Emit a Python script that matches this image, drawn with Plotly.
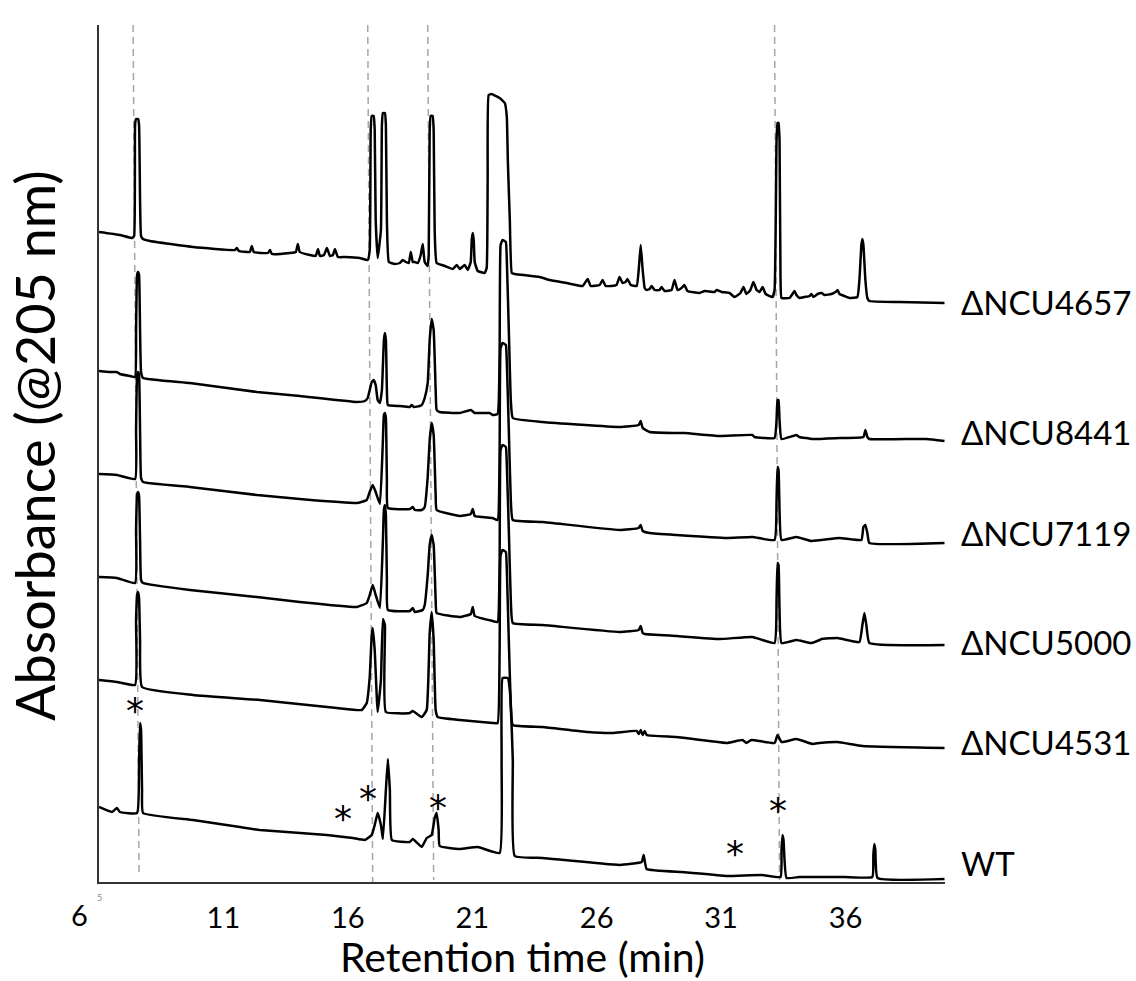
import plotly.graph_objects as go

# ---------------- data (retention time in min, absorbance in arbitrary units, stacked) -------------
t_4657 = [6.00,6.84,7.33,7.41,7.45,7.49,7.57,7.61,7.65,7.69,7.77,8.05,9.78,11.46,11.54,11.62,12.06,12.14,12.22,12.79,
          12.87,12.95,13.67,13.91,13.99,14.07,14.47,14.71,14.80,14.88,15.04,15.16,15.28,15.40,15.48,15.60,15.88,16.48,16.80,16.88,
          16.92,16.96,17.04,17.08,17.12,17.20,17.33,17.37,17.41,17.49,17.53,17.57,17.65,17.89,18.09,18.21,18.33,18.45,18.53,18.61,
          18.69,18.81,18.93,19.01,19.09,19.21,19.25,19.29,19.33,19.41,19.45,19.49,19.57,19.90,20.22,20.38,20.50,20.70,20.82,20.94,
          20.98,21.02,21.06,21.10,21.22,21.50,21.58,21.62,21.66,21.78,21.94,22.10,22.31,22.39,22.43,22.51,22.59,22.71,23.71,24.11,
          24.80,25.44,25.64,25.76,26.12,26.24,26.36,26.80,26.92,27.04,27.16,27.24,27.37,27.61,27.69,27.77,27.85,27.93,28.01,28.13,
          28.21,28.33,28.53,28.61,28.73,29.01,29.13,29.25,29.41,29.53,29.65,30.14,30.34,30.74,30.82,31.02,31.34,31.54,31.78,31.90,
          32.02,32.18,32.30,32.43,32.55,32.67,32.79,33.07,33.15,33.23,33.27,33.31,33.35,33.39,33.43,33.75,33.87,33.95,34.03,34.15,
          34.35,34.56,34.63,34.71,34.88,35.04,35.16,35.44,35.60,35.68,35.76,35.96,36.16,36.48,36.56,36.64,36.68,36.72,36.80,36.88,
          36.96,38.17,39.98]
a_4657 = [650,647,644,646,757,763,763,757,682,646,643,641,635,632,634,631,630,636,630,629,
          632,628,629,630,638,630,627,626,633,626,627,634,626,627,633,625,625,624,622,632,
          752,766,766,752,662,624,652,757,769,769,757,662,620,618,619,622,620,619,630,620,
          620,619,627,638,620,616,627,752,766,766,752,652,619,616,613,617,613,617,612,620,
          642,649,642,620,611,609,614,702,787,788,786,784,779,765,722,662,609,608,605,602,
          599,596,603,596,597,602,596,597,605,599,600,603,597,596,612,637,612,594,592,593,
          596,592,592,595,591,592,602,592,594,597,591,589,591,590,592,590,589,585,589,595,
          588,592,600,592,590,595,588,585,592,742,759,759,742,602,584,584,588,591,587,584,
          585,586,588,585,588,589,587,588,590,592,588,586,584,585,602,637,643,637,602,584,
          581,580,579]

t_8441 = [6.00,6.44,6.72,6.84,7.24,7.45,7.49,7.53,7.57,7.61,7.65,7.69,7.77,9.65,12.35,14.07,16.36,16.68,16.80,16.88,
          16.96,17.04,17.12,17.20,17.29,17.37,17.45,17.49,17.53,17.57,17.61,18.09,18.49,18.57,18.65,18.89,18.97,19.09,19.21,19.29,
          19.37,19.45,19.53,19.57,19.69,20.50,20.94,21.10,21.70,21.82,22.02,22.10,22.14,22.22,22.35,22.39,22.47,22.55,22.63,23.83,
          26.92,27.69,27.77,27.85,28.13,29.13,29.53,30.94,32.26,32.34,33.15,33.23,33.27,33.31,33.35,33.43,34.03,34.15,34.67,35.76,
          36.72,36.80,36.88,36.96,39.25,39.98]
a_8441 = [511,510,510,508,506,505,552,607,610,607,552,510,504,499,490,486,480,481,484,492,
          500,502,497,482,479,492,542,549,542,492,477,476,475,477,475,476,477,484,499,542,
          563,552,492,472,470,469,472,469,469,467,468,532,637,642,640,622,552,482,464,460,
          455,457,461,454,450,449,449,446,447,445,444,462,482,482,462,443,447,445,443,444,
          445,452,445,443,443,441]

t_7119 = [6.00,6.72,7.45,7.49,7.53,7.57,7.61,7.65,7.69,7.77,9.65,12.35,14.07,16.36,16.76,16.88,17.00,17.12,17.29,17.41,
          17.45,17.49,17.53,17.57,17.61,18.49,18.61,18.69,18.97,19.09,19.21,19.29,19.37,19.45,19.53,19.57,20.50,20.94,21.02,21.10,
          21.82,22.02,22.10,22.14,22.22,22.35,22.39,22.47,22.55,22.63,23.83,26.92,27.69,27.77,27.85,28.13,29.21,31.22,32.26,33.15,
          33.23,33.27,33.31,33.35,33.43,34.03,34.63,35.76,36.64,36.72,36.80,36.88,36.96,39.98]
a_7119 = [408,407,403,452,507,510,507,452,404,400,395,387,383,379,382,390,397,390,378,442,
          467,469,464,402,374,373,375,372,372,375,405,442,459,447,387,372,366,368,373,366,
          364,362,432,534,539,537,520,452,382,362,360,352,354,357,351,349,347,344,345,342,
          382,415,412,372,342,345,341,344,342,355,357,349,339,339]

t_5000 = [6.00,6.72,7.45,7.49,7.53,7.57,7.61,7.65,7.69,7.77,9.65,12.35,14.07,16.36,16.76,16.88,17.00,17.12,17.29,17.41,
          17.45,17.49,17.53,17.57,17.61,18.49,18.61,18.69,19.01,19.09,19.21,19.29,19.37,19.45,19.53,19.57,20.50,20.94,21.02,21.10,
          21.82,22.02,22.10,22.14,22.22,22.35,22.39,22.47,22.55,22.63,23.83,26.92,27.69,27.77,27.85,27.93,29.21,30.94,32.26,33.15,
          33.23,33.27,33.31,33.35,33.43,34.03,34.63,34.96,35.04,35.68,36.56,36.68,36.76,36.84,36.96,39.98]
a_5000 = [305,304,299,352,388,390,386,342,302,299,292,285,280,275,279,287,297,287,274,342,
          372,377,367,302,272,271,274,270,272,277,307,337,347,337,282,269,265,268,275,266,
          261,260,322,432,437,435,417,352,282,259,257,250,252,256,249,248,246,243,245,239,
          282,319,317,272,239,242,239,242,243,244,240,257,269,257,239,237]

t_4531 = [6.00,6.72,7.45,7.49,7.53,7.57,7.61,7.65,7.73,9.78,12.47,15.56,16.56,16.76,16.88,16.96,17.00,17.08,17.20,17.33,
          17.41,17.49,17.53,18.49,18.61,18.97,19.17,19.29,19.37,19.45,19.53,19.61,20.50,21.82,22.02,22.10,22.14,22.22,22.35,22.39,
          22.47,22.55,22.63,23.83,25.64,26.64,27.61,27.69,27.77,27.85,27.93,28.01,29.21,31.22,31.86,32.02,32.22,33.15,33.27,33.43,
          34.03,34.67,34.96,35.68,36.68,39.98]
a_4531 = [202,200,197,262,287,290,284,242,195,187,182,174,172,179,205,247,254,232,170,202,
          263,257,170,169,171,165,172,249,270,242,172,165,162,159,159,232,327,332,330,312,
          242,177,157,155,150,149,151,148,152,147,151,147,145,139,142,139,142,139,147,140,
          143,138,139,140,136,134]

t_wt = [6.00,6.52,6.72,6.84,7.53,7.61,7.65,7.69,7.73,7.77,9.78,11.66,12.47,15.16,16.20,16.68,16.96,17.08,17.20,17.33,
        17.41,17.53,17.61,17.69,17.77,18.49,18.61,18.97,19.17,19.37,19.49,19.57,19.65,19.69,20.50,21.22,22.10,22.18,22.22,22.43,
        22.51,22.63,22.71,23.83,26.92,27.81,27.89,28.01,29.41,29.86,31.22,32.63,33.39,33.43,33.47,33.51,33.63,34.15,34.88,35.96,
        37.08,37.12,37.16,37.20,37.29,39.98]
a_wt = [75,70,74,70,69,122,159,152,92,69,62,55,52,47,44,42,47,57,69,57,
        43,92,123,92,42,40,43,35,44,47,64,69,52,36,33,35,29,122,204,204,
        192,122,26,24,17,20,27,13,10,9,6,7,5,32,47,42,4,5,5,5,
        5,27,38,32,4,3]

series_names = ["ΔNCU4657", "ΔNCU8441", "ΔNCU7119", "ΔNCU5000", "ΔNCU4531", "WT"]
series_t = [t_4657, t_8441, t_7119, t_5000, t_4531, t_wt]
series_a = [a_4657, a_8441, a_7119, a_5000, a_4531, a_wt]
label_levels = [580, 450, 349, 240, 140, 19]

# reference retention times (dashed guides; slightly slanted in the original)
guide_top_t = [7.37, 16.80, 19.21, 33.15]
guide_bottom_t = [7.61, 17.00, 19.45, 33.35]
guide_bottom_a = [9, 0, 2, 2]

# asterisks marking peaks of interest (retention time, level)
star_t = [7.45, 15.80, 16.80, 19.61, 33.27, 31.58]
star_a = [172, 64, 84, 75, 72, 29]

x_ticks = [11, 16, 21, 26, 31, 36]
first_tick = "6"

FONT = "Lato"

fig = go.Figure()
for nm, tt, aa in zip(series_names, series_t, series_a):
    fig.add_trace(go.Scatter(x=tt, y=aa, mode="lines", name=nm,
                             line=dict(color="black", width=2.5, shape="spline", smoothing=0.35),
                             showlegend=False))

for x0, x1, yb in zip(guide_top_t, guide_bottom_t, guide_bottom_a):
    fig.add_shape(type="line", xref="x", yref="y", x0=x0, y0=857, x1=x1, y1=yb,
                  line=dict(color="#a6a6a6", width=1.5, dash="7px,5px"), layer="below")

for nm, lv in zip(series_names, label_levels):
    fig.add_annotation(xref="paper", yref="y", x=1.0165, y=lv, text=nm, showarrow=False,
                       xanchor="left", yanchor="middle",
                       font=dict(family=FONT, size=33, color="black"))

for st, sa in zip(star_t, star_a):
    fig.add_annotation(xref="x", yref="y", x=st, y=sa, text="*", showarrow=False,
                       xanchor="center", yanchor="middle",
                       font=dict(family="DejaVu Sans", size=36, color="black"))

# first tick label sits left of the axis origin in the original
fig.add_annotation(xref="paper", yref="paper", x=-0.0225, y=-0.038, text=first_tick, showarrow=False,
                   xanchor="center", yanchor="middle", font=dict(family=FONT, size=29, color="black"))
# tiny stray "5" below the axis origin, as in the original
fig.add_annotation(xref="paper", yref="paper", x=0, y=-0.018, text="5", showarrow=False,
                   xanchor="center", yanchor="middle", font=dict(family=FONT, size=9, color="#888"))

# axis titles
fig.add_annotation(xref="paper", yref="paper", x=0.501, y=-0.0865, text="Retention time (min)",
                   showarrow=False, xanchor="center", yanchor="middle",
                   font=dict(family=FONT, size=41, color="black"))
fig.add_annotation(xref="paper", yref="paper", x=-0.0757, y=0.51, text="Absorbance (@205 nm)",
                   showarrow=False, xanchor="center", yanchor="middle", textangle=-90,
                   font=dict(family=FONT, size=54, color="black"))

fig.update_layout(
    width=1136, height=981,
    margin=dict(l=99, r=191, t=25, b=99),
    paper_bgcolor="white", plot_bgcolor="white",
    font=dict(family=FONT, color="black"),
    xaxis=dict(range=[6, 40], showgrid=False, zeroline=False, showline=True,
               linecolor="#333", linewidth=1.5, tickvals=x_ticks, ticktext=[str(v) for v in x_ticks],
               ticks="outside", ticklen=9, tickcolor="rgba(0,0,0,0)",
               tickfont=dict(family=FONT, size=29, color="black"),
               automargin=False),
    yaxis=dict(range=[0, 857], showgrid=False, zeroline=False, showline=True,
               linecolor="#333", linewidth=1.5, showticklabels=False, ticks="", automargin=False),
)

fig.write_html("out.html")
